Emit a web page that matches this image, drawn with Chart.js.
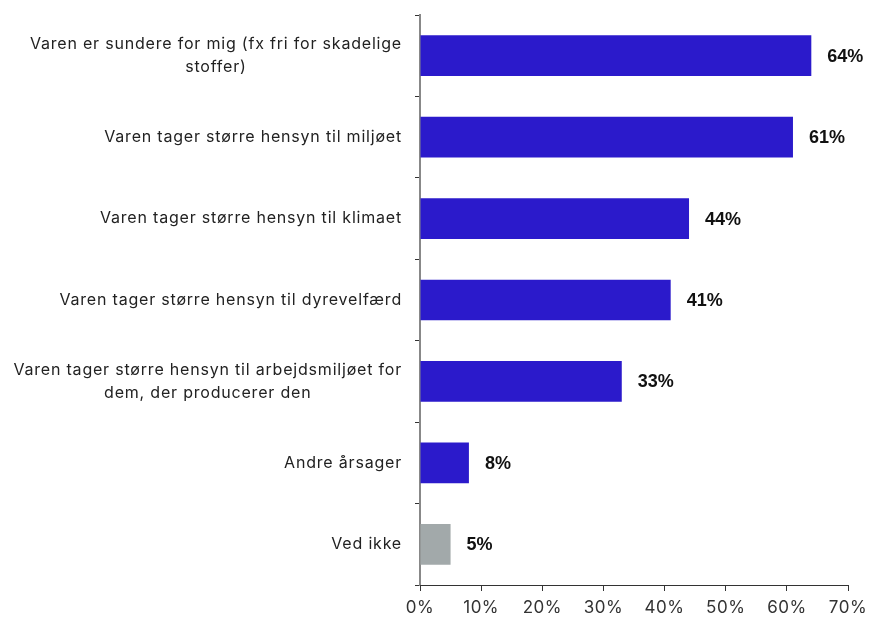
<!DOCTYPE html>
<html>
<head>
<meta charset="utf-8">
<script src="https://cdn.jsdelivr.net/npm/chart.js@4/dist/chart.umd.min.js"></script>
<style>
  body { margin: 0; background: #fff; }
</style>
</head>
<body>
<canvas id="bars" width="870" height="620"></canvas>
<script>
// categories (each entry = lines of the label)
var categories = [
  ["Varen er sundere for mig (fx fri for skadelige", "stoffer)"],
  ["Varen tager større hensyn til miljøet"],
  ["Varen tager større hensyn til klimaet"],
  ["Varen tager større hensyn til dyrevelfærd"],
  ["Varen tager større hensyn til arbejdsmiljøet for", "dem, der producerer den"],
  ["Andre årsager"],
  ["Ved ikke"]
];
var values = [64, 61, 44, 41, 33, 8, 5];
var barColors = ["#2b1acb", "#2b1acb", "#2b1acb", "#2b1acb", "#2b1acb", "#2b1acb", "#a2a9aa"];
var xTicks = [0, 10, 20, 30, 40, 50, 60, 70];

var labelFont = '16px "Inter", "Noto Sans", sans-serif';

// wider letter spacing for the axis text
const spacing = {
  id: 'spacing',
  beforeDraw(chart) { chart.ctx.letterSpacing = "0.5px"; }
};

// y labels: lines centered on each other, block right aligned
const catLabels = {
  id: 'catLabels',
  afterDraw(chart) {
    var c = chart.ctx, y = chart.scales.y;
    c.save();
    c.font = labelFont;
    c.letterSpacing = "0.8px";
    c.fillStyle = "#222";
    c.textBaseline = "middle";
    c.textAlign = "center";
    var right = y.right - 18;
    categories.forEach((lines, i) => {
      var w = Math.max(...lines.map(l => c.measureText(l).width));
      var cx = right - w / 2;
      var cy = y.getPixelForValue(i);
      var lh = 23;
      lines.forEach((l, k) => {
        c.fillText(l, cx, cy + (k - (lines.length - 1) / 2) * lh);
      });
    });
    c.restore();
  }
};

// value labels after bar ends
const valueLabels = {
  id: 'valueLabels',
  afterDatasetsDraw(chart) {
    var c = chart.ctx;
    var meta = chart.getDatasetMeta(0);
    c.save();
    c.letterSpacing = "0px";
    c.font = 'bold 18px "Liberation Sans", Arial, sans-serif';
    c.fillStyle = "#111";
    c.textBaseline = "middle";
    c.textAlign = "left";
    meta.data.forEach((bar, i) => {
      c.fillText(values[i] + "%", bar.x + 16, bar.y + 1);
    });
    c.restore();
  }
};

const myChart = new Chart(document.querySelector('#bars'), {
  type: 'bar',
  data: {
    labels: categories.map(l => l.join(" ")),
    datasets: [{
      data: values,
      backgroundColor: barColors,
      barPercentage: 0.5,
      categoryPercentage: 1
    }]
  },
  options: {
    indexAxis: 'y',
    responsive: false,
    animation: false,
    layout: { padding: { top: 15, right: 22, left: 0, bottom: 0 } },
    plugins: { legend: { display: false }, tooltip: { enabled: false } },
    scales: {
      y: {
        afterFit: (s) => { s.width = 420; },
        ticks: { display: false },
        grid: { drawOnChartArea: false, tickLength: 5, color: "#333", offset: true },
        border: { color: "#888", width: 2 }
      },
      x: {
        min: 0,
        max: 70,
        afterFit: (s) => { s.height = 35; s.paddingRight = 0; s.paddingLeft = 0; },
        afterBuildTicks: (s) => { s.ticks = xTicks.map(v => ({ value: v })); },
        ticks: {
          callback: (v) => v + "%",
          color: "#333",
          font: { family: '"Inter", "Noto Sans", sans-serif', size: 17 },
          padding: 7,
          maxRotation: 0
        },
        grid: { drawOnChartArea: false, tickLength: 6, color: "#333" },
        border: { color: "#333", width: 1 }
      }
    }
  },
  plugins: [spacing, catLabels, valueLabels]
});
</script>
</body>
</html>
